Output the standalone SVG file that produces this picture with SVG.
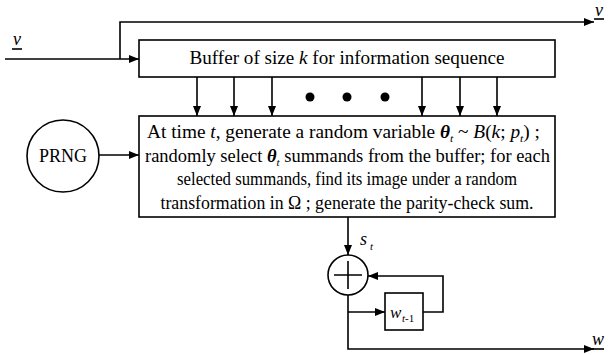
<svg xmlns="http://www.w3.org/2000/svg" width="610" height="355" viewBox="0 0 610 355" font-family="'Liberation Serif', 'Times New Roman', 'DejaVu Serif', serif">
<style>
.ln{fill:none;stroke:#000;stroke-width:1.6}
.box{fill:#fff;stroke:#000;stroke-width:1.6}
text{font-family:'Liberation Serif','Times New Roman','DejaVu Serif',serif;fill:#000}
.t{font-size:18px}
.i{font-style:italic}
.sub{font-size:11px;font-style:italic}
</style>
<defs>
<marker id="ah" viewBox="0 0 10 10" refX="10" refY="5" markerWidth="10" markerHeight="10" markerUnits="userSpaceOnUse" orient="auto">
<path d="M0,1 L10,5 L0,9 Z" fill="#000"/>
</marker>
</defs>
<g id="connectors">
<path class="ln" d="M5,59 H139" marker-end="url(#ah)"/>
<path class="ln" d="M120,59 V22 H594" marker-end="url(#ah)"/>
<path class="ln" d="M197,77 V116" marker-end="url(#ah)"/>
<path class="ln" d="M234,77 V116" marker-end="url(#ah)"/>
<path class="ln" d="M272,77 V116" marker-end="url(#ah)"/>
<path class="ln" d="M422,77 V116" marker-end="url(#ah)"/>
<path class="ln" d="M460,77 V116" marker-end="url(#ah)"/>
<path class="ln" d="M497,77 V116" marker-end="url(#ah)"/>
<path class="ln" d="M99,155 H139" marker-end="url(#ah)"/>
<path class="ln" d="M348,217 V255" marker-end="url(#ah)"/>
<path class="ln" d="M423,312 H443 V276 H368" marker-end="url(#ah)"/>
<path class="ln" d="M348,295 V349 H594" marker-end="url(#ah)"/>
<path class="ln" d="M348,312 H385" marker-end="url(#ah)"/>
</g>
<g id="dots">
<circle cx="310" cy="97" r="4.5"/>
<circle cx="347" cy="97" r="4.5"/>
<circle cx="385" cy="97" r="4.5"/>
</g>
<g id="label-v-in">
<text x="13" y="45" class="t i" font-family="'Liberation Serif', serif">v</text>
<path class="ln" d="M12,49 H22" stroke-width="1.2"/>
</g>
<g id="label-v-out">
<text x="595" y="16" class="t i" font-family="'Liberation Serif', serif">v</text>
<path class="ln" d="M594,19 H604" stroke-width="1.2"/>
</g>
<g id="buffer">
<rect class="box" x="139" y="40" width="416" height="37"/>
<text x="347" y="64" class="t" text-anchor="middle" textLength="315" lengthAdjust="spacingAndGlyphs" font-family="'Liberation Serif', serif">Buffer of size <tspan class="i">k</tspan> for information sequence</text>
</g>
<g id="prng">
<circle class="box" cx="63" cy="156" r="36"/>
<text x="63" y="162" class="t" text-anchor="middle" font-family="'Liberation Serif', serif">PRNG</text>
</g>
<g id="main" font-family="'Liberation Serif', serif">
<rect class="box" x="139" y="116" width="416" height="101"/>
<text x="147" y="138" class="t" textLength="393" lengthAdjust="spacingAndGlyphs">At time <tspan class="i">t</tspan>, generate a random variable <tspan class="i" font-weight="bold">θ</tspan><tspan class="sub" dy="4">t</tspan><tspan dy="-4"> ~ </tspan><tspan class="i">B</tspan>(<tspan class="i">k</tspan>; <tspan class="i">p</tspan><tspan class="sub" dy="4">t</tspan><tspan dy="-4">) ;</tspan></text>
<text x="145" y="162" class="t" textLength="405" lengthAdjust="spacingAndGlyphs">randomly select <tspan class="i" font-weight="bold">θ</tspan><tspan class="sub" dy="4">t</tspan><tspan dy="-4"> summands from the buffer; for each</tspan></text>
<text x="347" y="185" class="t" text-anchor="middle" textLength="340" lengthAdjust="spacingAndGlyphs">selected summands, find its image under a random</text>
<text x="347" y="209" class="t" text-anchor="middle" textLength="373" lengthAdjust="spacingAndGlyphs">transformation in Ω ; generate the parity-check sum.</text>
</g>
<g id="label-st" font-family="'Liberation Serif', serif">
<text x="360" y="245" class="t i">s</text>
<text x="370" y="250" class="sub">t</text>
</g>
<g id="adder">
<circle class="box" cx="348" cy="275" r="20"/>
<path class="ln" d="M348,261 V289 M334,275 H362"/>
</g>
<g id="delay" font-family="'Liberation Serif', serif">
<rect class="box" x="385" y="293" width="38" height="37"/>
<text x="390" y="318" class="i" font-size="17">w</text>
<text x="402" y="322" font-size="11"><tspan font-style="italic">t</tspan>-1</text>
</g>
<g id="label-w" font-family="'Liberation Serif', serif">
<text x="592" y="345" class="t i">w</text>
<path class="ln" d="M592,349 H604" stroke-width="1.2"/>
</g>
</svg>
